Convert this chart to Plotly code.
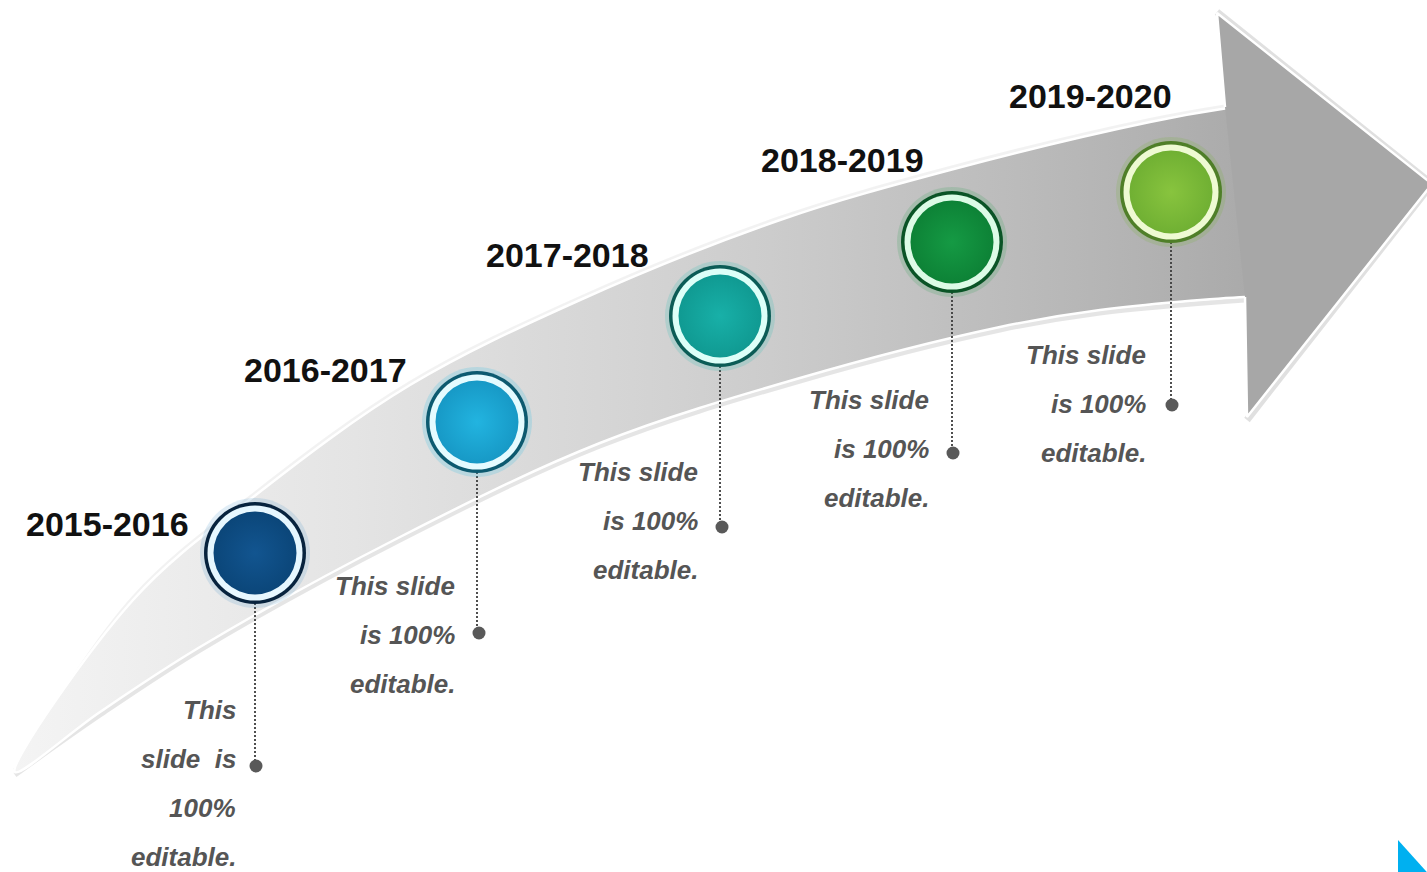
import plotly.graph_objects as go

W, H = 1427, 872

# ---------------- content ----------------
periods = ["2015-2016", "2016-2017", "2017-2018", "2018-2019", "2019-2020"]
desc_lines = [
    ["This", "slide  is", "100%", "editable."],
    ["This slide", "is 100%", "editable."],
    ["This slide", "is 100%", "editable."],
    ["This slide", "is 100%", "editable."],
    ["This slide", "is 100%", "editable."],
]

# ---------------- layout positions (pixels) ----------------
circle_x = [255, 477, 720, 952, 1171]
circle_y = [553, 422, 316, 242, 192]
label_x = [107, 325, 567, 842, 1090]
label_y = [524, 370, 255, 160, 96]
dot_x = [256, 479, 722, 953, 1172]
dot_y = [766, 633, 527, 453, 405]
desc_right = [238, 457, 700, 931, 1148]
desc_first_y = [710, 586, 472, 400, 355]
line_gap = 49

# arrow outline
upper_x = [15, 133, 257, 410, 580, 780, 950, 1150, 1228, 1262]
upper_y = [772, 600, 494, 385, 300, 220, 170, 122, 108, 104]
lower_x = [1262, 1245, 1100, 1000, 800, 600, 400, 200, 100, 15]
lower_y = [297, 297, 310, 327, 378, 443, 537, 647, 712, 772]
head_x = [1225, 1217, 1432, 1247, 1245]
head_y = [107, 13, 184, 417, 297]

# styles
fill_colors = ["#0b4679", "#1799c6", "#109a92", "#0d8236", "#70b033"]
center_colors = ["#125590", "#22b4e0", "#18b0a8", "#159a44", "#88c43e"]
outline_colors = ["#07233e", "#0c5a70", "#0b5c56", "#0a5426", "#4f7f28"]
ring_colors = ["#e6f7ff", "#e4fbff", "#dcfff8", "#dcfbe6", "#eefad2"]
glow_colors = ["rgba(60,140,200,0.16)", "rgba(40,190,230,0.20)", "rgba(30,190,180,0.18)",
               "rgba(40,160,80,0.18)", "rgba(120,180,60,0.20)"]

fig = go.Figure()

# arrow band shadow
fig.add_trace(go.Scatter(
    x=lower_x[1:], y=[v + 3 for v in lower_y[1:]], mode="lines",
    line=dict(color="rgba(0,0,0,0.10)", width=5, shape="spline"),
    hoverinfo="skip", showlegend=False))
fig.add_trace(go.Scatter(
    x=upper_x[:-1], y=[v - 2 for v in upper_y[:-1]], mode="lines",
    line=dict(color="rgba(0,0,0,0.05)", width=4, shape="spline"),
    hoverinfo="skip", showlegend=False))

# arrow band with horizontal gradient, white edge
band_x = upper_x + lower_x
band_y = upper_y + lower_y
fig.add_trace(go.Scatter(
    x=band_x, y=band_y, mode="lines", fill="toself",
    line=dict(color="white", width=2.5, shape="spline", smoothing=1.0),
    fillgradient=dict(type="horizontal",
                      colorscale=[[0, "#f4f4f4"], [0.27, "#e4e4e4"], [0.6, "#cccccc"],
                                  [0.9, "#b2b2b2"], [1, "#a8a8a8"]]),
    hoverinfo="skip", showlegend=False))

# arrow head shadow
fig.add_trace(go.Scatter(
    x=head_x[1:], y=[head_y[1] - 1, head_y[2], head_y[3] + 3], mode="lines",
    line=dict(color="rgba(0,0,0,0.12)", width=7),
    hoverinfo="skip", showlegend=False))
# arrow head
fig.add_trace(go.Scatter(
    x=head_x, y=head_y, mode="lines", fill="toself", fillcolor="#a7a7a7",
    line=dict(color="rgba(0,0,0,0)", width=0),
    hoverinfo="skip", showlegend=False))
fig.add_trace(go.Scatter(
    x=head_x, y=head_y, mode="lines",
    line=dict(color="white", width=2.5),
    hoverinfo="skip", showlegend=False))

# connectors
cx, cy = [], []
for x0, y0, yd in zip(circle_x, circle_y, dot_y):
    cx += [x0, x0, None]
    cy += [y0 + 50, yd, None]
fig.add_trace(go.Scatter(
    x=cx, y=cy, mode="lines",
    line=dict(color="#3c3c3c", width=1.8, dash="2px,2px"),
    hoverinfo="skip", showlegend=False))
fig.add_trace(go.Scatter(
    x=dot_x, y=dot_y, mode="markers",
    marker=dict(size=13, color="#595959", line=dict(width=0)),
    hoverinfo="skip", showlegend=False))

# circles
fig.add_trace(go.Scatter(
    x=circle_x, y=circle_y, mode="markers",
    marker=dict(size=110, color=glow_colors, line=dict(width=0)),
    hoverinfo="skip", showlegend=False))
fig.add_trace(go.Scatter(
    x=circle_x, y=circle_y, mode="markers",
    marker=dict(size=102, color=outline_colors, line=dict(width=0)),
    hoverinfo="skip", showlegend=False))
fig.add_trace(go.Scatter(
    x=circle_x, y=circle_y, mode="markers",
    marker=dict(size=95, color=ring_colors, line=dict(width=0)),
    hoverinfo="skip", showlegend=False))
fig.add_trace(go.Scatter(
    x=circle_x, y=circle_y, mode="markers",
    marker=dict(size=83, color=fill_colors, line=dict(width=0),
                gradient=dict(type="radial", color=center_colors)),
    hoverinfo="skip", showlegend=False))

# bottom-right corner triangle
fig.add_trace(go.Scatter(
    x=[1398, 1398, 1434, 1398], y=[840, 880, 880, 840], mode="lines", fill="toself",
    fillcolor="#00b0f0", line=dict(width=0, color="#00b0f0"),
    hoverinfo="skip", showlegend=False))

annotations = []
for p, lx, ly in zip(periods, label_x, label_y):
    annotations.append(dict(
        x=lx, y=ly, xref="x", yref="y", text=p, showarrow=False,
        xanchor="center", yanchor="middle",
        font=dict(family="Liberation Sans, Arial, sans-serif", size=34,
                  color="#111111", weight="bold")))
for lines, rx, y0 in zip(desc_lines, desc_right, desc_first_y):
    for i, t in enumerate(lines):
        annotations.append(dict(
            x=rx, y=y0 + i * line_gap, xref="x", yref="y", text=t, showarrow=False,
            xanchor="right", yanchor="middle",
            font=dict(family="Liberation Sans, Arial, sans-serif", size=26,
                      color="#555555", weight="bold", style="italic")))

fig.update_layout(
    width=W, height=H, autosize=False,
    margin=dict(l=0, r=0, t=0, b=0),
    paper_bgcolor="white", plot_bgcolor="white",
    xaxis=dict(range=[0, W], visible=False, fixedrange=True),
    yaxis=dict(range=[H, 0], visible=False, fixedrange=True),
    annotations=annotations,
    showlegend=False,
)

fig.write_html("out.html", config={"displayModeBar": False},
               post_script="document.body.style.margin='0px';document.body.style.overflow='hidden';")
